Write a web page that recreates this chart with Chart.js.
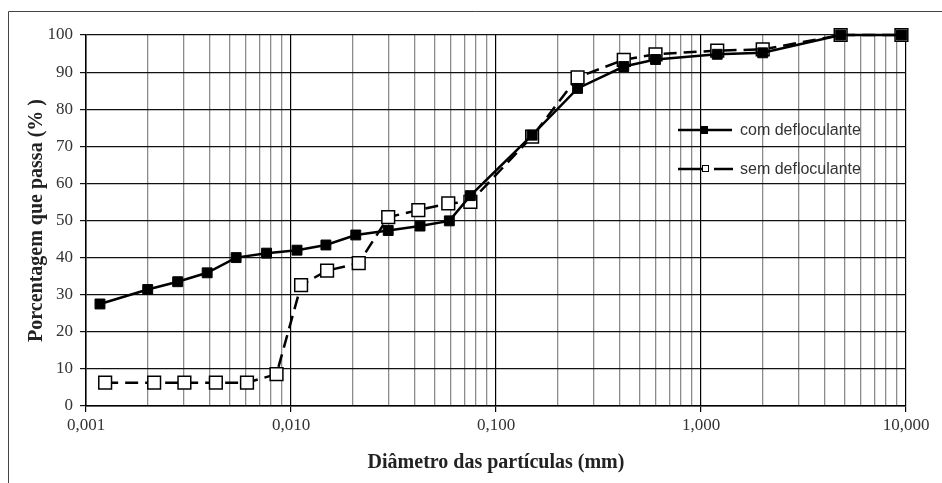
<!DOCTYPE html>
<html lang="pt">
<head>
<meta charset="utf-8">
<title>Curva granulométrica</title>
<script src="https://cdn.jsdelivr.net/npm/chart.js@4.4.1/dist/chart.umd.min.js"></script>
<style>
    html, body { margin: 0; padding: 0; background: #fff; }
    #wrap { width: 942px; height: 483px; position: relative; }
</style>
</head>
<body>
<div id="wrap">
    <canvas id="granChart" width="942" height="483"></canvas>
</div>
<script>
    // Diâmetro (mm) e % que passa - ensaio com defloculante
    const diamCom = [0.00117, 0.0020, 0.0028, 0.0039, 0.0054, 0.0076, 0.0107, 0.0148, 0.0207, 0.0298,
        0.0426, 0.0592, 0.075, 0.15, 0.25, 0.42, 0.6, 1.2, 2.0, 4.8, 9.5];
    const passaCom = [27.5, 31.4, 33.5, 35.9, 40.0, 41.2, 42.0, 43.4, 46.1, 47.3,
        48.5, 49.9, 56.7, 73.0, 85.6, 91.5, 93.4, 94.8, 95.2, 100, 100];

    // Ensaio sem defloculante
    const diamSem = [0.00124, 0.00215, 0.00302, 0.0043, 0.0061, 0.0085, 0.0112, 0.0150, 0.0214, 0.0298,
        0.0418, 0.0585, 0.075, 0.15, 0.25, 0.42, 0.6, 1.2, 2.0, 4.8, 9.5];
    const passaSem = [6.3, 6.3, 6.3, 6.3, 6.3, 8.6, 32.6, 36.5, 38.5, 50.9,
        52.8, 54.6, 55.0, 72.6, 88.6, 93.3, 94.8, 95.8, 96.1, 100, 100];

    // Décadas do eixo x e seus rótulos
    const decadas = [-3, -2, -1, 0, 1];
    const rotulosX = ['0,001', '0,010', '0,100', '1,000', '10,000'];

    const serieCom = diamCom.map((d, i) => ({ x: d, y: passaCom[i] }));
    const serieSem = diamSem.map((d, i) => ({ x: d, y: passaSem[i] }));

    function isMajor(v) {
        const l = Math.log10(v);
        return Math.abs(l - Math.round(l)) < 1e-9;
    }

    // Moldura (linhas superior e esquerda) e legenda desenhada dentro do gráfico
    const molduraLegenda = {
        id: 'molduraLegenda',
        beforeDraw(chart) {
            const ctx = chart.ctx;
            ctx.save();
            ctx.strokeStyle = '#444';
            ctx.lineWidth = 1;
            ctx.beginPath();
            ctx.moveTo(8.5, 483);
            ctx.lineTo(8.5, 11.5);
            ctx.lineTo(942, 11.5);
            ctx.stroke();
            ctx.restore();
        },
        afterDatasetsDraw(chart) {
            const ctx = chart.ctx;
            ctx.save();
            ctx.strokeStyle = '#000';
            ctx.lineWidth = 2.5;
            // com defloculante
            ctx.beginPath();
            ctx.moveTo(678, 130);
            ctx.lineTo(732, 130);
            ctx.stroke();
            ctx.fillStyle = '#000';
            ctx.fillRect(700, 126, 8, 8);
            // sem defloculante
            ctx.beginPath();
            ctx.moveTo(678, 169);
            ctx.lineTo(702, 169);
            ctx.moveTo(714, 169);
            ctx.lineTo(733, 169);
            ctx.stroke();
            ctx.fillStyle = '#fff';
            ctx.lineWidth = 1;
            ctx.fillRect(702.5, 165.5, 6, 6);
            ctx.strokeRect(702.5, 165.5, 6, 6);

            ctx.fillStyle = '#333';
            ctx.font = '16px "Liberation Sans", Arial, sans-serif';
            ctx.textBaseline = 'middle';
            ctx.fillText('com defloculante', 740, 131);
            ctx.fillText('sem defloculante', 740, 170);
            ctx.restore();
        }
    };

    new Chart(document.getElementById('granChart'), {
        type: 'line',
        data: {
            datasets: [{
                label: 'com defloculante',
                data: serieCom,
                borderColor: '#000',
                backgroundColor: '#000',
                borderWidth: 2.5,
                pointStyle: 'rect',
                pointRadius: 7,
                pointBackgroundColor: '#000',
                pointBorderColor: '#000',
                pointBorderWidth: 1,
                tension: 0,
                clip: false
            }, {
                label: 'sem defloculante',
                data: serieSem,
                borderColor: '#000',
                borderWidth: 2.5,
                borderDash: [13, 7],
                pointStyle: 'rect',
                pointRadius: 9,
                pointBackgroundColor: '#fff',
                pointBorderColor: '#000',
                pointBorderWidth: 1.5,
                tension: 0,
                clip: false
            }]
        },
        options: {
            responsive: false,
            animation: false,
            layout: {
                padding: { left: 0, top: 35, right: 36, bottom: 0 }
            },
            plugins: {
                legend: { display: false },
                tooltip: { enabled: false }
            },
            scales: {
                x: {
                    type: 'logarithmic',
                    min: 0.001,
                    max: 10,
                    afterBuildTicks(scale) {
                        const ticks = [];
                        decadas.forEach(e => {
                            for (let m = 1; m <= 9; m++) {
                                if (e === decadas[decadas.length - 1] && m > 1) break;
                                ticks.push({ value: parseFloat(m + 'e' + e) });
                            }
                        });
                        scale.ticks = ticks;
                    },
                    afterFit(scale) {
                        scale.height = 77;
                    },
                    ticks: {
                        autoSkip: false,
                        maxRotation: 0,
                        padding: 3,
                        color: '#333',
                        font: { family: '"Liberation Serif", "Times New Roman", serif', size: 17 },
                        callback(value) {
                            if (!isMajor(value)) return '';
                            return rotulosX[decadas.indexOf(Math.round(Math.log10(value)))];
                        }
                    },
                    grid: {
                        color: ctx => (ctx.tick && isMajor(ctx.tick.value)) ? '#000' : '#8c8c8c',
                        lineWidth: ctx => (ctx.tick && isMajor(ctx.tick.value)) ? 1.2 : 1.3,
                        tickLength: 6,
                        tickColor: ctx => (ctx.tick && isMajor(ctx.tick.value)) ? '#000' : 'rgba(0,0,0,0)'
                    },
                    border: { color: '#000', width: 1.5 },
                    title: {
                        display: true,
                        text: 'Diâmetro das partículas (mm)',
                        color: '#222',
                        font: { family: '"Liberation Serif", "Times New Roman", serif', size: 20, weight: 'bold' },
                        padding: { top: 0, bottom: 8 }
                    }
                },
                y: {
                    min: 0,
                    max: 100,
                    afterFit(scale) {
                        scale.width = 86;
                    },
                    ticks: {
                        stepSize: 10,
                        padding: 7,
                        color: '#333',
                        font: { family: '"Liberation Serif", "Times New Roman", serif', size: 17 }
                    },
                    grid: {
                        color: '#111',
                        lineWidth: 1.2,
                        tickLength: 6
                    },
                    border: { color: '#000', width: 1.5 },
                    title: {
                        display: true,
                        text: 'Porcentagem que passa (% )',
                        color: '#222',
                        font: { family: '"Liberation Serif", "Times New Roman", serif', size: 20, weight: 'bold' },
                        padding: { top: 25, bottom: 0 }
                    }
                }
            }
        },
        plugins: [molduraLegenda]
    });
</script>
</body>
</html>
